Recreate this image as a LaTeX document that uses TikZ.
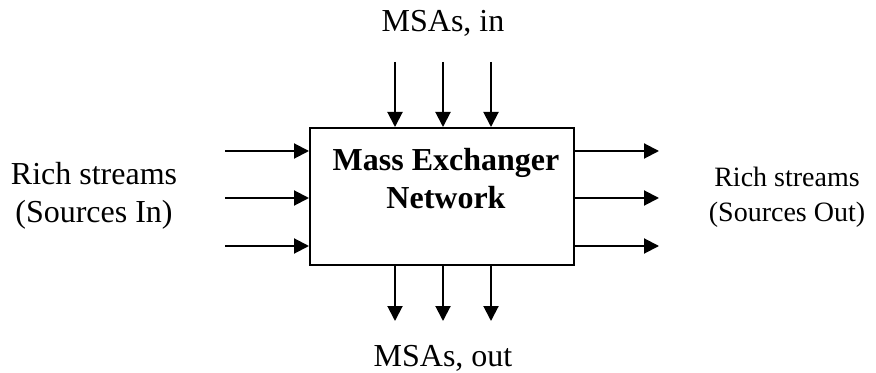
\documentclass[tikz,border=0pt]{standalone}
\usepackage{fontspec}
\setmainfont{Liberation Serif}
\usetikzlibrary{arrows.meta}
\begin{document}
\begin{tikzpicture}[x=0.5pt,y=-0.5pt,
  flow/.style={line width=1pt,-{Triangle[length=7.5pt,width=7.5pt]}},
  lbl/.style={font=\fontsize{16}{19}\selectfont,align=center,inner sep=0pt},
  lblsmall/.style={font=\fontsize{14}{17.5}\selectfont,align=center,inner sep=0pt}]
\useasboundingbox (0,0) rectangle (876,373);
% central exchanger block
\node[draw,line width=1pt,minimum width=132pt,minimum height=68.5pt,inner sep=0pt] (net) at (442,196.5) {};
\node[lbl,font=\fontsize{16}{19}\selectfont\bfseries] (title) at (446,179) {Mass Exchanger\\Network};
% labels
\node[lbl] (msain) at (443,23) {MSAs, in};
\node[lbl] (msaout) at (443,358) {MSAs, out};
\node[lbl] (richin) at (94,196) {Rich streams\\(Sources In)};
\node[lblsmall] (richout) at (787,197) {Rich streams\\(Sources Out)};
% stream end points
\foreach \x/\n in {395/1,443/2,491/3}{
  \coordinate (t\n) at (\x,62);
  \coordinate (b\n) at (\x,321);
  \draw[flow] (t\n) -- (t\n |- net.north);
  \draw[flow] (b\n |- net.south) -- (b\n);
}
\foreach \y/\n in {151/1,198/2,246/3}{
  \coordinate (l\n) at (225,\y);
  \coordinate (r\n) at (659,\y);
  \draw[flow] (l\n) -- (l\n -| net.west);
  \draw[flow] (r\n -| net.east) -- (r\n);
}
\end{tikzpicture}
\end{document}
